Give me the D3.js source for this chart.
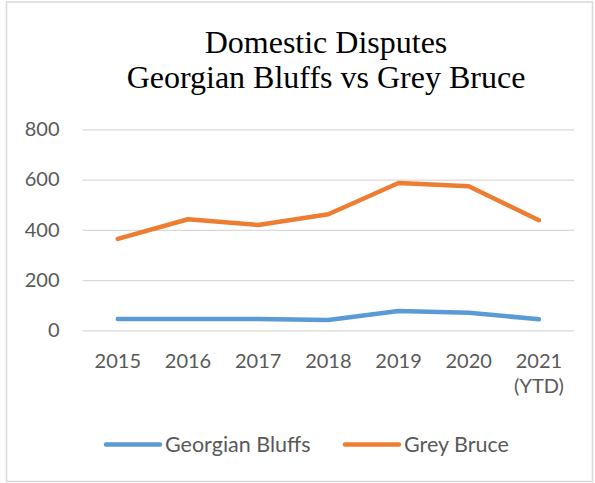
<!DOCTYPE html>
<html>
<head>
<meta charset="utf-8">
<script src="https://cdn.jsdelivr.net/npm/d3@7/dist/d3.min.js"></script>
<style>
  body { margin: 0; background: #fff; }
  svg { display: block; }
</style>
</head>
<body>
<svg id="chart" width="595" height="483"></svg>
<script>
const categories = ["2015", "2016", "2017", "2018", "2019", "2020", "2021\n(YTD)"];
const georgianBluffs = [45, 45, 45, 41, 77, 70, 44];
const greyBruce = [364, 442, 419, 462, 586, 573, 438];
const yTicks = [0, 200, 400, 600, 800];
const seriesNames = ["Georgian Bluffs", "Grey Bruce"];
const seriesColors = ["#5b9bd5", "#ed7d31"];
const titleLines = ["Domestic Disputes", "Georgian Bluffs vs Grey Bruce"];

const svg = d3.select("#chart");
const textColor = "#595959";
const labelFont = "Lato, 'Open Sans', sans-serif";

// outer border
svg.append("rect")
  .attr("x", 6.5).attr("y", 2)
  .attr("width", 586).attr("height", 479.5)
  .attr("fill", "#fff")
  .attr("stroke", "#d9d9d9").attr("stroke-width", 1.5);

// title
svg.append("text")
  .attr("text-anchor", "middle")
  .attr("font-family", "'Liberation Serif', 'Times New Roman', serif")
  .attr("font-size", 32)
  .attr("fill", "#000")
  .selectAll("tspan").data(titleLines).join("tspan")
  .attr("x", 326)
  .attr("y", (d, i) => 52.8 + i * 35.6)
  .text(d => d);

const x = d3.scaleBand().domain(categories).range([82.7, 574]);
const y = d3.scaleLinear().domain([0, 800]).range([330.3, 129.3]);

// gridlines + y labels
const yAxis = d3.axisLeft(y)
  .tickValues(yTicks)
  .tickSize(-(574 - 82.7))
  .tickPadding(23.2)
  .tickFormat(d3.format("d"));
const gy = svg.append("g").attr("transform", "translate(82.7,0)").call(yAxis);
gy.select(".domain").remove();
gy.selectAll(".tick line").attr("stroke", "#d9d9d9").attr("stroke-width", 1.3);
gy.selectAll(".tick text")
  .attr("fill", textColor)
  .attr("font-family", labelFont)
  .attr("font-size", 20);

// x labels
const xAxis = d3.axisBottom(x).tickSize(0).tickPadding(0);
const gx = svg.append("g").attr("transform", "translate(0,330.3)").call(xAxis);
gx.select(".domain").remove();
gx.selectAll(".tick text").each(function(d) {
  const t = d3.select(this);
  t.text(null)
    .attr("fill", textColor)
    .attr("font-family", labelFont)
    .attr("font-size", 20)
    .attr("dy", null)
    .attr("y", 0);
  d.split("\n").forEach((line, i) => {
    t.append("tspan").attr("x", 0).attr("y", 37.8 + i * 25).text(line);
  });
});

// lines
const series = [georgianBluffs, greyBruce];
const line = d3.line()
  .x((d, i) => x(categories[i]) + x.bandwidth() / 2)
  .y(d => y(d));
svg.append("g").selectAll("path").data(series).join("path")
  .attr("d", d => line(d))
  .attr("fill", "none")
  .attr("stroke", (d, i) => seriesColors[i])
  .attr("stroke-width", 4.5)
  .attr("stroke-linecap", "round")
  .attr("stroke-linejoin", "round");

// legend
const legendX = [106, 345];
const lg = svg.append("g").selectAll("g").data(seriesNames).join("g")
  .attr("transform", (d, i) => `translate(${legendX[i]},444.5)`);
lg.append("line")
  .attr("x1", 0).attr("x2", 54).attr("y1", 0).attr("y2", 0)
  .attr("stroke", (d, i) => seriesColors[i])
  .attr("stroke-width", 4.5)
  .attr("stroke-linecap", "round");
lg.append("text")
  .attr("x", 59).attr("y", 7.5)
  .attr("fill", textColor)
  .attr("font-family", labelFont)
  .attr("font-size", 21.5)
  .text(d => d);
</script>
</body>
</html>
